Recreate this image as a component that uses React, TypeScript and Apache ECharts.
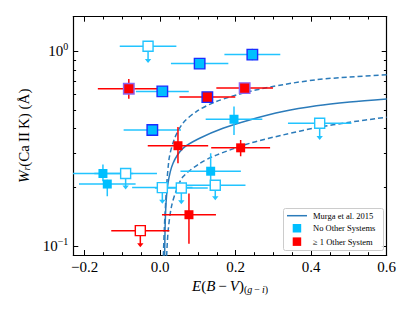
import React, { useEffect, useRef } from 'react';
import * as echarts from 'echarts';

const X_MIN = -0.23;
const X_MAX = 0.6;
const Y_MIN = 0.09;
const Y_MAX = 1.5;

const xMajorTicks = [-0.2, 0, 0.2, 0.4, 0.6];
const xMinorTicks = [-0.15, -0.1, -0.05, 0.05, 0.1, 0.15, 0.25, 0.3, 0.35, 0.45, 0.5, 0.55];
const yMajorTicks = [0.1, 1];
const yMinorTicks = [0.09, 0.2, 0.3, 0.4, 0.5, 0.6, 0.7, 0.8, 0.9];

// Murga et al. 2015 relation: [E(B-V), W]
const murgaSolid = [
  [0.0119, 0.089], [0.0146, 0.1524], [0.0207, 0.2094], [0.0339, 0.2653], [0.0604, 0.317],
  [0.1046, 0.357], [0.1664, 0.4018], [0.2371, 0.4434], [0.3253, 0.4894], [0.4138, 0.5236],
  [0.502, 0.5473], [0.6, 0.5673],
];
const murgaUpper = [
  [0.0085, 0.089], [0.0125, 0.1408], [0.0232, 0.276], [0.0384, 0.357], [0.0604, 0.4266],
  [0.0959, 0.4894], [0.1489, 0.551], [0.2371, 0.621], [0.3253, 0.672], [0.4138, 0.713],
  [0.502, 0.736], [0.6, 0.756],
];
const murgaLower = [
  [0.0172, 0.089], [0.0212, 0.12], [0.0297, 0.1585], [0.0429, 0.1932], [0.0604, 0.2264],
  [0.1046, 0.2653], [0.1489, 0.2927], [0.2371, 0.3364], [0.3253, 0.3713], [0.4138, 0.4048],
  [0.502, 0.4315], [0.6, 0.458],
];

// detections: [E(B-V), W, xerr, W low, W high]
const cyanEdged = [
  [0.0058, 0.621, 0.07, 0.621, 0.621],
  [-0.0207, 0.394, 0.076, 0.367, 0.418],
  [0.2442, 0.959, 0.074, 0.897, 1.026],
  [0.1046, 0.862, 0.076, 0.862, 0.862],
];
const cyanPlain = [
  [0.1956, 0.447, 0.075, 0.371, 0.519],
  [0.1338, 0.242, 0.08, 0.193, 0.299],
  [-0.1515, 0.2356, 0.08, 0.215, 0.262],
  [-0.14, 0.208, 0.075, 0.18, 0.219],
];
// upper limits: [E(B-V), W, xerr, arrow tip W]
const cyanLimits = [
  [-0.032, 1.059, 0.075, 0.869],
  [0.0058, 0.1995, 0.08, 0.165],
  [0.0561, 0.1986, 0.07, 0.164],
  [0.146, 0.205, 0.08, 0.1716],
  [0.4225, 0.4266, 0.084, 0.35],
  [-0.0914, 0.2356, 0.083, 0.195],
];
const redEdgedPurple = [
  [-0.083, 0.641, 0.082, 0.569, 0.719],
  [0.2238, 0.6456, 0.075, 0.6456, 0.6456],
];
const redEdgedBlue = [
  [0.125, 0.5806, 0.074, 0.5806, 0.5806],
];
const redPlain = [
  [0.0472, 0.327, 0.08, 0.266, 0.408],
  [0.2132, 0.319, 0.078, 0.289, 0.35],
  [0.0763, 0.1448, 0.0715, 0.1028, 0.186],
];
const redLimits = [
  [-0.0525, 0.12, 0.077, 0.0986],
];

const FONT = "'Liberation Serif', 'DejaVu Serif', 'Times New Roman', serif";
const CYAN = '#00bfff';
const CYAN_BAR = '#22c4ff';
const RED = '#ff0000';
const MURGA = '#2b7bba';

function errRender(color: string) {
  return (params: any, api: any) => {
    const x = api.value(0), y = api.value(1), xe = api.value(2), lo = api.value(3), hi = api.value(4);
    const l = api.coord([x - xe, y]);
    const r = api.coord([x + xe, y]);
    const b = api.coord([x, lo]);
    const t = api.coord([x, hi]);
    const st = { stroke: color, lineWidth: 1.5 };
    return {
      type: 'group',
      children: [
        { type: 'line', shape: { x1: l[0], y1: l[1], x2: r[0], y2: r[1] }, style: st },
        { type: 'line', shape: { x1: b[0], y1: b[1], x2: t[0], y2: t[1] }, style: st },
      ],
    };
  };
}

function limRender(color: string) {
  return (params: any, api: any) => {
    const x = api.value(0), y = api.value(1), xe = api.value(2), tip = api.value(3);
    const l = api.coord([x - xe, y]);
    const r = api.coord([x + xe, y]);
    const c = api.coord([x, y]);
    const t = api.coord([x, tip]);
    const st = { stroke: color, lineWidth: 1.5 };
    return {
      type: 'group',
      children: [
        { type: 'line', shape: { x1: l[0], y1: l[1], x2: r[0], y2: r[1] }, style: st },
        { type: 'line', shape: { x1: c[0], y1: c[1], x2: t[0], y2: t[1] - 2 }, style: st },
        {
          type: 'polygon',
          shape: { points: [[t[0] - 3.2, t[1] - 4], [t[0] + 3.2, t[1] - 4], [t[0], t[1]]] },
          style: { fill: color },
        },
      ],
    };
  };
}

function errSeries(data: number[][], color: string) {
  return {
    type: 'custom',
    xAxisIndex: 0,
    yAxisIndex: 0,
    clip: true,
    renderItem: errRender(color),
    encode: { x: 0, y: 1 },
    data,
    z: 3,
  };
}
function limSeries(data: number[][], color: string) {
  return {
    type: 'custom',
    xAxisIndex: 0,
    yAxisIndex: 0,
    clip: true,
    renderItem: limRender(color),
    encode: { x: 0, y: 1 },
    data,
    z: 3,
  };
}
function markSeries(data: number[][], fill: string, edge: string | null, size: number) {
  return {
    type: 'scatter',
    xAxisIndex: 0,
    yAxisIndex: 0,
    symbol: 'rect',
    symbolSize: size,
    data: data.map((d) => [d[0], d[1]]),
    itemStyle: { color: fill, borderColor: edge || fill, borderWidth: edge ? 1.4 : 0, opacity: 1 },
    z: 4,
    silent: true,
  };
}

function xAxisDef(position: string, ticks: number[], len: number, labels: boolean, line: boolean) {
  return {
    type: 'value',
    min: X_MIN,
    max: X_MAX,
    position,
    axisLine: { show: line, onZero: false, lineStyle: { color: '#000', width: 1.2 } },
    axisTick: { show: true, inside: true, length: len, customValues: ticks, lineStyle: { color: '#000', width: 1 } },
    axisLabel: labels
      ? {
          show: true,
          customValues: ticks,
          margin: 4,
          color: '#000',
          fontSize: 15,
          fontFamily: FONT,
          formatter: (v: number) => (v < -1e-9 ? '\u2212' : '') + Math.abs(v).toFixed(1),
        }
      : { show: false },
    splitLine: { show: false },
  };
}
function yAxisDef(position: string, ticks: number[], len: number, labels: boolean, line: boolean) {
  return {
    type: 'log',
    logBase: 10,
    min: Y_MIN,
    max: Y_MAX,
    position,
    axisLine: { show: line, onZero: false, lineStyle: { color: '#000', width: 1.2 } },
    axisTick: { show: true, inside: true, length: len, customValues: ticks, lineStyle: { color: '#000', width: 1 } },
    axisLabel: labels
      ? {
          show: true,
          customValues: ticks,
          margin: 5,
          color: '#000',
          formatter: (v: number) => {
            const e = Math.round(Math.log10(v));
            return '{b|10}{s|' + (e < 0 ? '\u2212' + Math.abs(e) : String(e)) + '}';
          },
          rich: {
            b: { fontSize: 15, fontFamily: FONT, color: '#000' },
            s: { fontSize: 10, fontFamily: FONT, color: '#000', padding: [0, 0, 9, 0] },
          },
        }
      : { show: false },
    splitLine: { show: false },
    minorTick: { show: false },
  };
}

export default function App() {
  const ref = useRef<HTMLDivElement>(null);
  useEffect(() => {
    if (!ref.current) return;
    const chart = echarts.init(ref.current, null, { renderer: 'svg' });
    const xA = [
      {
        ...xAxisDef('bottom', xMajorTicks, 5, true, true),
        name: '{i|E}{n|(}{i|B}{n|\u2009\u2212\u2009}{i|V}{n|)}{sn|(}{si|g}{sn|\u2009\u2212\u2009}{si|i}{sn|)}',
        nameLocation: 'middle',
        nameGap: 13,
        nameTextStyle: {
          verticalAlign: 'top',
          rich: {
            i: { fontSize: 15, fontFamily: FONT, fontStyle: 'italic', color: '#000' },
            n: { fontSize: 15, fontFamily: FONT, color: '#000' },
            si: { fontSize: 10, fontFamily: FONT, fontStyle: 'italic', color: '#000', padding: [7, 0, 0, 0] },
            sn: { fontSize: 10, fontFamily: FONT, color: '#000', padding: [7, 0, 0, 0] },
          },
        },
      },
      xAxisDef('bottom', xMinorTicks, 2.8, false, false),
      xAxisDef('top', xMajorTicks, 5, false, true),
      xAxisDef('top', xMinorTicks, 2.8, false, false),
    ];
    const yA = [
      {
        ...yAxisDef('left', yMajorTicks, 5, true, true),
        name: '{i|W}{sr|r}{n|(Ca\u2009II\u2009K) (\u00c5)}',
        nameLocation: 'middle',
        nameRotate: 90,
        nameGap: 37,
        nameTextStyle: {
          rich: {
            i: { fontSize: 15, fontFamily: FONT, fontStyle: 'italic', color: '#000' },
            sr: { fontSize: 10, fontFamily: FONT, fontStyle: 'italic', color: '#000', padding: [6, 0, 0, 0] },
            n: { fontSize: 15, fontFamily: FONT, color: '#000' },
          },
        },
      },
      yAxisDef('left', yMinorTicks, 2.8, false, false),
      yAxisDef('right', yMajorTicks, 5, false, true),
      yAxisDef('right', yMinorTicks, 2.8, false, false),
    ];

    const lineSeries = (data: number[][], dashed: boolean) => ({
      type: 'line',
      xAxisIndex: 0,
      yAxisIndex: 0,
      data,
      smooth: 0.3,
      showSymbol: false,
      symbol: 'none',
      clip: true,
      lineStyle: { color: MURGA, width: 1.5, type: dashed ? [5, 3] : 'solid' },
      z: 2,
      silent: true,
    });

    chart.setOption({
      animation: false,
      backgroundColor: '#fff',
      grid: { left: 73.3, right: 28.3, top: 16.7, bottom: 56, containLabel: false },
      xAxis: xA,
      yAxis: yA,
      series: [
        lineSeries(murgaSolid, false),
        lineSeries(murgaUpper, true),
        lineSeries(murgaLower, true),
        errSeries(cyanEdged, CYAN_BAR),
        errSeries(cyanPlain, CYAN_BAR),
        limSeries(cyanLimits, CYAN_BAR),
        errSeries(redEdgedPurple, RED),
        errSeries(redEdgedBlue, RED),
        errSeries(redPlain, RED),
        limSeries(redLimits, RED),
        markSeries(cyanPlain, CYAN, null, 9),
        markSeries(redPlain, RED, null, 9),
        markSeries(cyanLimits, '#ffffff', CYAN_BAR, 10),
        markSeries(redLimits, '#ffffff', RED, 10),
        markSeries(cyanEdged, CYAN, '#1a2cff', 10.5),
        markSeries(redEdgedPurple, RED, '#8a66f2', 10.5),
        markSeries(redEdgedBlue, RED, '#1a2cff', 10.5),
      ],
      graphic: [
        {
          type: 'rect',
          z: 100,
          shape: { x: 283.5, y: 208.5, width: 100, height: 42, r: 2 },
          style: { fill: 'rgba(255,255,255,0.85)', stroke: '#cccccc', lineWidth: 1 },
        },
        {
          type: 'line',
          z: 101,
          shape: { x1: 287, y1: 215.7, x2: 307, y2: 215.7 },
          style: { stroke: MURGA, lineWidth: 1.5 },
        },
        {
          type: 'rect',
          z: 101,
          shape: { x: 292.7, y: 224, width: 8.5, height: 8.5 },
          style: { fill: CYAN },
        },
        {
          type: 'rect',
          z: 101,
          shape: { x: 292.7, y: 237.4, width: 8.5, height: 8.5 },
          style: { fill: RED },
        },
        {
          type: 'text',
          z: 101,
          x: 313,
          y: 215.7,
          style: { text: 'Murga et al. 2015', font: `8.5px ${FONT}`, fill: '#000', verticalAlign: 'middle' },
        },
        {
          type: 'text',
          z: 101,
          x: 313,
          y: 228.3,
          style: { text: 'No Other Systems', font: `8.5px ${FONT}`, fill: '#000', verticalAlign: 'middle' },
        },
        {
          type: 'text',
          z: 101,
          x: 313,
          y: 241.7,
          style: { text: '\u2265 1 Other System', font: `8.5px ${FONT}`, fill: '#000', verticalAlign: 'middle' },
        },
      ],
    });
    return () => chart.dispose();
  }, []);
  return (
    <div
      ref={ref}
      style={{ position: 'fixed', left: 0, top: 0, width: 415, height: 311, background: '#fff' }}
    />
  );
}
